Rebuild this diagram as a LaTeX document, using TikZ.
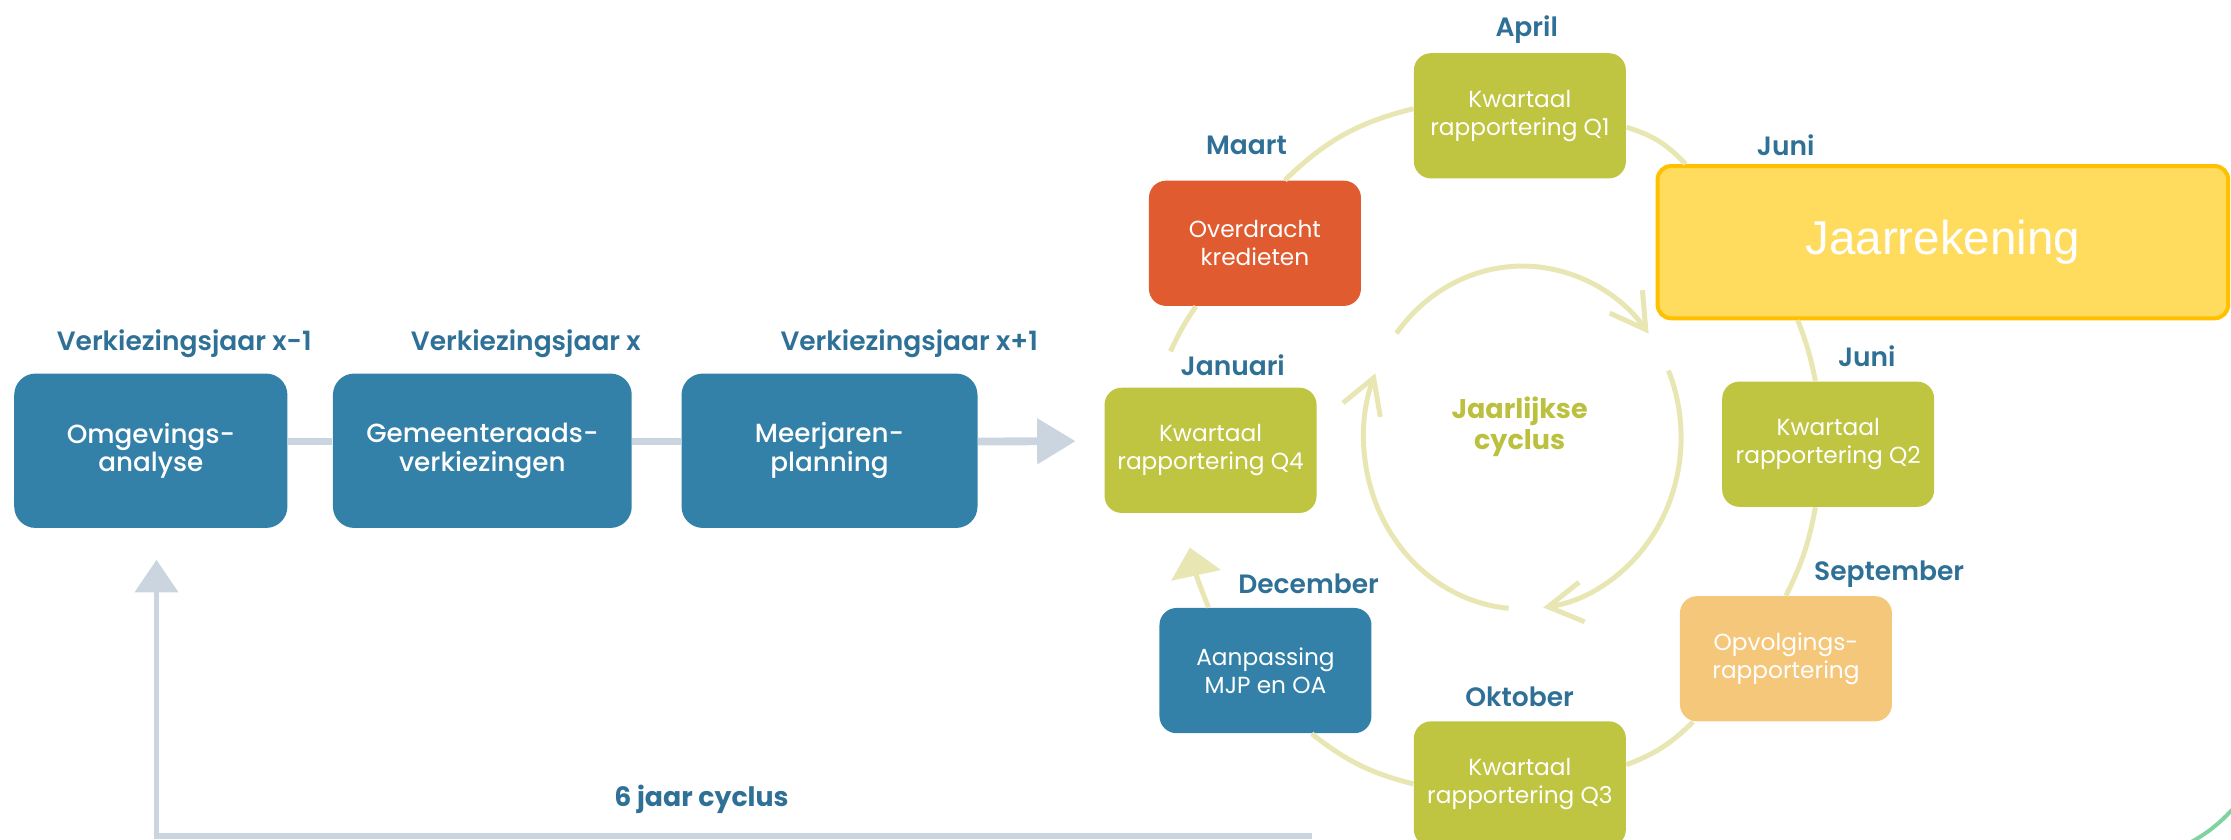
\documentclass[tikz,border=0pt]{standalone}
\usepackage{fontspec}
\setmainfont{Poppins}
\newfontfamily\popsemi{Poppins SemiBold}
\newfontfamily\popmed{Poppins Medium}
\newfontfamily\popbold{Poppins Bold}
\newfontfamily\arialfont{Liberation Sans}
\usetikzlibrary{arrows.meta,positioning}

\definecolor{boxblue}{HTML}{3381A8}
\definecolor{labelblue}{HTML}{2E7096}
\definecolor{olijf}{HTML}{BFC441}
\definecolor{olijftekst}{HTML}{BCC03F}
\definecolor{rood}{HTML}{E05B30}
\definecolor{lichtoranje}{HTML}{F5C77A}
\definecolor{geel}{HTML}{FFDB5E}
\definecolor{goud}{HTML}{FFC000}
\definecolor{ringkleur}{HTML}{E8E6B3}
\definecolor{lijngrijs}{HTML}{CBD5E0}
\definecolor{groen}{HTML}{80D3A0}

\begin{document}
\begin{tikzpicture}[x=0.2mm,y=0.2mm,
    month/.style={font=\popsemi\fontsize{10.6}{12}\selectfont,text=labelblue,inner sep=1pt},
    planbox/.style={fill=boxblue,rounded corners=3mm,minimum width=41.6mm,minimum height=21.7mm,
      text=white,align=center,font=\popmed\fontsize{10.5}{11.5}\selectfont},
    cyclebox/.style={rounded corners=2.4mm,minimum width=29.8mm,minimum height=17.6mm,
      text=white,align=center,font=\fontsize{9.3}{11.3}\selectfont},
    link/.style={draw=lijngrijs,line width=1.1mm},
    ring/.style={draw=ringkleur,line width=0.7mm},
    barb/.style={-{Straight Barb[length=4.8mm,width=5.6mm]}}
  ]
  \useasboundingbox (0,0) rectangle (1568,-590);

  % meerjarige cyclus
  \node[planbox,minimum width=38.4mm] (omg) at (106,-316.8) {Omgevings-\\analyse};
  \node[planbox,minimum width=42mm] (gem) at (339,-316.8) {Gemeenteraads-\\verkiezingen};
  \node[planbox] (meer) at (583,-316.8) {Meerjaren-\\planning};
  \node[month] (vj1) at (129.5,-241.3) {Verkiezingsjaar x-1};
  \node[month] (vj2) at (369.6,-241.3) {Verkiezingsjaar x};
  \node[month] (vj3) at (639,-241.3) {Verkiezingsjaar x+1};

  % jaarlijkse cyclus
  \node[cyclebox,fill=olijf] (q1) at (1068.2,-81.4) {Kwartaal\\rapportering Q1};
  \node[cyclebox,fill=rood] (maart) at (882,-171) {Overdracht\\kredieten};
  \node[cyclebox,fill=olijf] (q4) at (850.8,-316.5) {Kwartaal\\rapportering Q4};
  \node[cyclebox,fill=boxblue] (aanp) at (889.4,-471.3) {Aanpassing\\MJP en OA};
  \node[cyclebox,fill=olijf] (q3) at (1068.2,-551) {Kwartaal\\rapportering Q3};
  \node[cyclebox,fill=lichtoranje] (opv) at (1255.2,-463) {Opvolgings-\\rapportering};
  \node[cyclebox,fill=olijf] (q2) at (1284.9,-312.2) {Kwartaal\\rapportering Q2};
  \node[draw=goud,fill=geel,line width=0.56mm,rounded corners=1.9mm,minimum width=80.2mm,
    minimum height=21.4mm,text=white,font=\arialfont\fontsize{19}{22}\selectfont] (jaar) at (1365.5,-170.2) {Jaarrekening};

  \node[month] (april) at (1073,-21) {April};
  \node[month] (lmaart) at (876,-102) {Maart};
  \node[month] (juni1) at (1255,-102) {Juni};
  \node[month] (jan) at (866.4,-256.5) {Januari};
  \node[month] (juni2) at (1312,-250.7) {Juni};
  \node[month] (dec) at (919.7,-410.5) {December};
  \node[month] (sep) at (1327.7,-403.4) {September};
  \node[month] (okt) at (1068,-489.6) {Oktober};
  \node[font=\popbold\fontsize{10.8}{12.7}\selectfont,text=olijftekst,align=center] (jc) at (1068,-300) {Jaarlijkse\\cyclus};

  \draw[ring] ([yshift=1mm]q1.west) to[bend right=15] ([xshift=4.2mm]maart.north);
  \draw[ring] ([xshift=-8.3mm]maart.south) to[bend right=5] ([xshift=-1mm]jan.north west);
  \draw[ring,-{Triangle[length=4mm,width=7mm]}] ([xshift=-8mm]aanp.north) to[bend left=5] ([xshift=-2.9mm,yshift=-4.8mm]q4.south);
  \draw[ring] ([xshift=6.5mm]aanp.south) to[bend right=12] (q3.west);
  \draw[ring] ([yshift=2.7mm]q3.east) to[bend right=12] ([xshift=1.9mm]opv.south west);
  \draw[ring] (opv.north) to[bend right=8] ([xshift=-1.8mm]q2.south);
  \draw[ring] ([xshift=-1.8mm]q2.north) to[bend right=5] ([xshift=-20.4mm]jaar.south);
  \draw[ring] ([yshift=-1.6mm]q1.east) to[bend left=15] ([xshift=4.2mm]jaar.north west);

  \draw[ring,barb] (1070,-307.5) ++(142.6:111.5 and 120.5)
    arc[start angle=142.6,end angle=37.3,x radius=111.5,y radius=120.5];
  \draw[ring,barb] (1070,-307.5) ++(23:111.5 and 120.5)
    arc[start angle=23,end angle=-82.5,x radius=111.5,y radius=120.5];
  \draw[ring,barb] (1070,-307.5) ++(265:111.5 and 120.5)
    arc[start angle=265,end angle=158,x radius=111.5,y radius=120.5];

  % verbindingen
  \draw[link] ([yshift=1.3mm]omg.east) -- ([yshift=1.3mm]gem.west);
  \draw[link] ([yshift=1.3mm]gem.east) -- ([yshift=1.3mm]meer.west);
  \draw[link,-{Triangle[length=5.4mm,width=6.2mm]},shorten >=4mm] ([yshift=1.3mm]meer.east) -- ([yshift=1.3mm]q4.west);

  \coordinate (eind) at (922,-587.6);
  \draw[link,line width=0.8mm,-{Triangle[length=4.6mm,width=6mm]}] (eind) -| ([xshift=0.8mm,yshift=-4.4mm]omg.south);
  \node[font=\popbold\fontsize{10.7}{12}\selectfont,text=labelblue] (zes) at (493,-562) {6 jaar cyclus};

  \draw[groen,line width=0.56mm] (1530,-597) to[bend right=12] (1575,-562);
\end{tikzpicture}
\end{document}
